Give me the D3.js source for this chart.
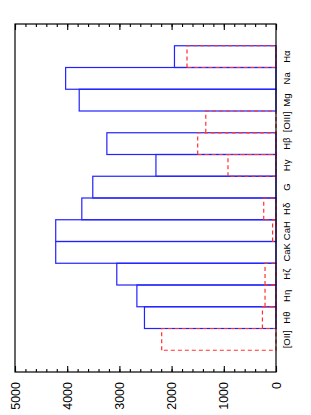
<!DOCTYPE html>
<html>
<head>
<meta charset="utf-8">
<script src="https://cdn.jsdelivr.net/npm/d3@7"></script>
<style>
  body { margin: 0; background: #fff; }
  svg { display: block; font-family: "Liberation Sans", Arial, sans-serif; }
</style>
</head>
<body>
<svg width="311" height="415"></svg>
<script>
// the chart is a landscape plot turned on its side
var categories = ["[OII]", "H\u03b8", "H\u03b7", "H\u03b6", "CaK", "CaH", "H\u03b4", "G", "H\u03b3", "H\u03b2", "[OIII]", "Mg", "Na", "H\u03b1"];
var blueValues = [0, 2520, 2665, 3050, 4220, 4220, 3720, 3510, 2300, 3240, 0, 3770, 4030, 1945];
var redValues = [2190, 260, 210, 210, 0, 65, 235, 0, 920, 1500, 1345, 0, 0, 1705];
var valueTicks = [0, 1000, 2000, 3000, 4000, 5000];
var minorTicks = d3.range(0, 5001, 200);

var svg = d3.select("svg");

// inner (unrotated) frame
var frame = { left: 43, right: 391, top: 15, bottom: 276 };

var g = svg.append("g")
    .attr("transform", "translate(0,415) rotate(-90)");

var x = d3.scaleBand()
    .domain(categories)
    .range([frame.left, frame.right])
    .paddingInner(0)
    .paddingOuter(1);

var y = d3.scaleLinear()
    .domain([0, 5000])
    .range([frame.bottom, frame.top]);

// bars as open boxes
g.selectAll("rect.blue")
    .data(categories)
    .enter()
    .append("rect")
    .attr("class", "blue")
    .attr("x", function(d) { return x(d); })
    .attr("width", x.bandwidth())
    .attr("y", function(d, i) { return y(blueValues[i]); })
    .attr("height", function(d, i) { return y(0) - y(blueValues[i]); })
    .attr("fill", "none")
    .attr("stroke", "#2222ff")
    .attr("stroke-width", 1.2);

g.selectAll("rect.red")
    .data(categories)
    .enter()
    .append("rect")
    .attr("class", "red")
    .attr("x", function(d) { return x(d); })
    .attr("width", x.bandwidth())
    .attr("y", function(d, i) { return y(redValues[i]); })
    .attr("height", function(d, i) { return y(0) - y(redValues[i]); })
    .attr("fill", "none")
    .attr("stroke", "#ff3030")
    .attr("stroke-width", 1.2)
    .attr("stroke-dasharray", "4,3");

// frame
g.append("rect")
    .attr("x", frame.left)
    .attr("y", frame.top)
    .attr("width", frame.right - frame.left)
    .attr("height", frame.bottom - frame.top)
    .attr("fill", "none")
    .attr("stroke", "#000")
    .attr("stroke-width", 1.2);

// value axes, ticks pointing inward
var minorLeft = g.append("g")
    .attr("transform", "translate(" + frame.left + ",0)")
    .call(d3.axisLeft(y).tickValues(minorTicks).tickSize(-3).tickFormat(""));
var minorRight = g.append("g")
    .attr("transform", "translate(" + frame.right + ",0)")
    .call(d3.axisRight(y).tickValues(minorTicks).tickSize(-3).tickFormat(""));
var majorRight = g.append("g")
    .attr("transform", "translate(" + frame.right + ",0)")
    .call(d3.axisRight(y).tickValues(valueTicks).tickSize(-6).tickFormat(""));
var yAxis = g.append("g")
    .attr("transform", "translate(" + frame.left + ",0)")
    .call(d3.axisLeft(y).tickValues(valueTicks).tickSize(-6).tickPadding(10).tickFormat(d3.format("d")));

[minorLeft, minorRight, majorRight, yAxis].forEach(function(a) {
  a.select(".domain").remove();
  a.selectAll("line").attr("stroke", "#000").attr("stroke-width", 1.1);
});
yAxis.selectAll("text")
    .attr("font-size", "12.5px")
    .attr("font-family", "Liberation Sans, Arial, sans-serif")
    .attr("fill", "#000");

// category labels
var xAxis = g.append("g")
    .attr("transform", "translate(0," + frame.bottom + ")")
    .call(d3.axisBottom(x).tickSize(0).tickPadding(7));
xAxis.select(".domain").remove();
xAxis.selectAll("text")
    .attr("font-size", "9.5px")
    .attr("font-family", "Liberation Sans, Arial, sans-serif")
    .attr("fill", "#000");
</script>
</body>
</html>
